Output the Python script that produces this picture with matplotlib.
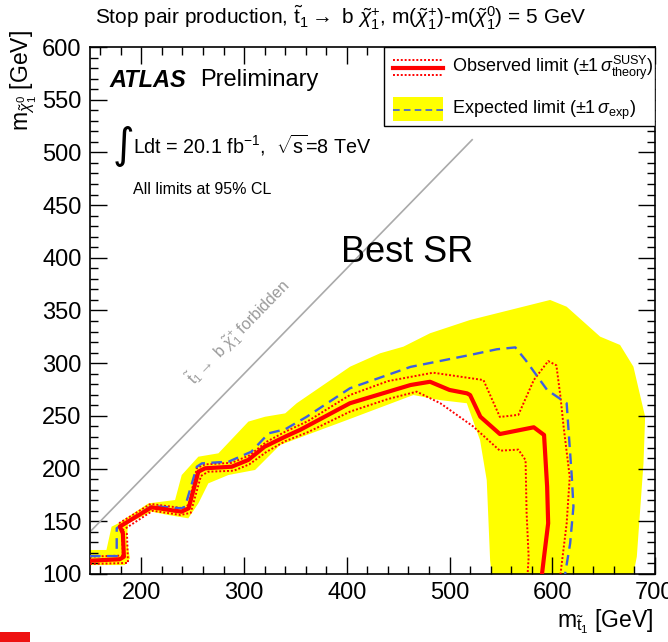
import matplotlib
matplotlib.use('Agg')
import matplotlib.pyplot as plt
from matplotlib.patches import Rectangle
from matplotlib.lines import Line2D
from matplotlib.ticker import MultipleLocator

plt.rcParams['font.family'] = ['Liberation Sans', 'DejaVu Sans']
plt.rcParams['mathtext.fontset'] = 'custom'
plt.rcParams['mathtext.rm'] = 'Liberation Sans'
plt.rcParams['mathtext.it'] = 'Liberation Sans:italic'
plt.rcParams['mathtext.bf'] = 'Liberation Sans:bold'
plt.rcParams['mathtext.sf'] = 'Liberation Sans'

# ---------------- data (GeV) ----------------
obs_x = [150, 179, 183, 182, 179, 210, 239, 246, 255.5, 262, 288, 304, 320, 340, 355, 403,
         462, 481, 500, 517, 520, 530, 549, 582, 592, 595, 596, 592, 590]
obs_y = [112.6, 114, 116.4, 138.6, 145, 163.3, 159.1, 162.3, 197.1, 200.3, 201.8, 208.2, 220.8, 230.3, 237, 262,
         279.3, 282.4, 274.6, 271.4, 269.8, 249.2, 232.8, 239.2, 231.9, 182.8, 148.1, 116.4, 100]

obs_up_x = [150, 182, 181, 178, 209, 240, 246, 254, 262, 288, 305, 322, 340, 362, 403, 440, 484,
            533, 549, 567, 582, 596, 604, 608, 611, 617, 614, 608]
obs_up_y = [116.5, 117.5, 142, 148, 166.5, 162.5, 165.5, 200.5, 204, 205.5, 212.5, 225.5, 235, 245, 269.8, 283, 291,
            284, 249, 251, 284, 302, 298, 268, 240, 192, 148, 100]

obs_dn_x = [150, 187, 186, 181, 211, 238, 248, 258, 265, 290, 305, 322, 340, 362, 403, 440, 468,
            491, 523, 549, 567, 574, 575, 577, 576]
obs_dn_y = [109.5, 110.5, 138, 141, 160, 156, 158, 193, 197, 198, 204, 216, 226, 234.5, 254, 266, 273,
            262, 240, 217, 218, 208, 158, 116, 100]

exp_x = [150, 176, 176, 210, 239, 242.5, 254, 259, 285, 307, 324, 340, 361, 403, 462, 520,
         546, 564, 574, 595, 614, 619, 620.6, 617.4, 612.5]
exp_y = [117, 117, 143.4, 164.5, 162.3, 163.9, 201.8, 205, 206.6, 216, 233.5, 237.3, 249.2, 276.2, 296.5, 307.8,
         313.2, 315, 303, 274.6, 262, 192.3, 163.9, 129.1, 100]

band_outer_x = [150, 166, 171, 177.6, 206.8, 232.8, 239.3, 255.5, 275, 304.2, 320.4, 340, 351.2, 403.2,
                432.4, 455.1, 481, 520, 597.9, 614, 646.6, 666, 679, 690.4, 688.8, 682.3, 679]
band_outer_y = [122.8, 122.8, 144.9, 148.1, 167, 170.2, 193.9, 211.3, 214.5, 244.6, 249.2, 252.4, 262, 296.7,
                309.4, 315.7, 328.4, 341, 360, 353.6, 325.2, 317.3, 296.7, 249.2, 205, 116.4, 100]
band_inner_x = [541, 539.5, 536.2, 529.7, 516.8, 490.8, 464.8, 400, 335, 310.7, 284.7, 265.2, 255.5,
                245.7, 226.2, 210, 187.3, 185.6, 189, 184, 164.6, 150]
band_inner_y = [100, 113, 189, 227, 262, 265, 269.8, 246, 222.4, 198.7, 193.9, 186, 167,
                152.8, 156, 159.1, 148.1, 132.3, 114.9, 108.5, 108.5, 108.5]

diag_x = [150, 522]
diag_y = [140, 512]

x_ticks = [200, 300, 400, 500, 600, 700]
y_ticks = [100, 150, 200, 250, 300, 350, 400, 450, 500, 550, 600]

# ---------------- figure ----------------
W, H = 668, 642
fig = plt.figure(figsize=(W / 100, H / 100), dpi=100)
ax = fig.add_axes([90 / W, 68 / H, 565 / W, 527 / H])
ax.set_xlim(150, 700)
ax.set_ylim(100, 600)

YELLOW = '#ffff00'
RED = '#ff0000'
BLUE = '#3d5fe0'

ax.fill(band_outer_x + band_inner_x, band_outer_y + band_inner_y, color=YELLOW, lw=0, zorder=1)
ax.plot(diag_x, diag_y, color='#aaaaaa', lw=1.2, zorder=2)
ax.plot(obs_up_x, obs_up_y, color=RED, lw=1.4, ls=(0, (1, 1)), zorder=3)
ax.plot(obs_dn_x, obs_dn_y, color=RED, lw=1.4, ls=(0, (1, 1)), zorder=3)
ax.plot(exp_x, exp_y, color=BLUE, lw=1.7, ls=(0, (4.5, 2.7)), zorder=4)
ax.plot(obs_x, obs_y, color=RED, lw=3.0, zorder=5, solid_joinstyle='round')

# axes styling (ROOT-like)
ax.set_xticks(x_ticks)
ax.set_yticks(y_ticks)
ax.xaxis.set_minor_locator(MultipleLocator(20))
ax.yaxis.set_minor_locator(MultipleLocator(10))
ax.tick_params(which='major', direction='in', length=12, width=1.0, top=True, right=True,
               labelsize=17, pad=6)
ax.tick_params(which='minor', direction='in', length=6, width=1.0, top=True, right=True)
for s in ax.spines.values():
    s.set_linewidth(1.2)

# title
fig.text(341 / W, 1 - 18 / H,
         r'Stop pair production, $\tilde{\mathrm{t}}_{1}\rightarrow$ b $\tilde{\chi}^{+}_{1}$, '
         r'm($\tilde{\chi}^{+}_{1}$)-m($\tilde{\chi}^{0}_{1}$) = 5 GeV',
         ha='center', va='center', fontsize=15)

# axis labels
fig.text(24 / W, 1 - 30 / H, r'm$_{\tilde{\chi}^{0}_{1}}$ [GeV]', rotation=90,
         ha='center', va='top', fontsize=16.5)
fig.text(653 / W, 1 - 622 / H, r'm$_{\tilde{\mathrm{t}}_{1}}$ [GeV]', ha='right', va='center',
         fontsize=16.5)

# annotations
ax.text(0.035, 0.937, 'ATLAS', transform=ax.transAxes, fontsize=17, fontweight='bold',
        fontstyle='italic', va='center', ha='left')
ax.text(0.195, 0.937, 'Preliminary', transform=ax.transAxes, fontsize=17, va='center', ha='left')
ax.text(0.040, 0.812, '\u222b', transform=ax.transAxes, fontsize=30, va='center', ha='left',
        family='DejaVu Sans')
ax.text(0.076, 0.814, r'Ldt = 20.1 fb$^{-1}$,  $\sqrt{\mathrm{s}}$=8 TeV', transform=ax.transAxes,
        fontsize=14.2, va='center', ha='left')
ax.text(0.076, 0.729, 'All limits at 95% CL', transform=ax.transAxes, fontsize=11.5, va='center',
        ha='left')
ax.text(0.561, 0.611, 'Best SR', transform=ax.transAxes, fontsize=26, va='center', ha='center')

ax.text(295, 329.6, r'$\tilde{\mathrm{t}}_{1}\rightarrow$ b $\tilde{\chi}^{+}_{1}$ forbidden',
        rotation=45.7, rotation_mode='anchor', ha='center', va='center', fontsize=11.5,
        color='#999999')

# legend (drawn manually in axes coordinates)
t = ax.transAxes
ax.add_patch(Rectangle((0.520, 0.850), 0.480, 0.150, transform=t, facecolor='white',
                       edgecolor='black', lw=1.0, zorder=10))
ax.add_line(Line2D([0.536, 0.625], [0.975, 0.975], transform=t, color=RED, lw=1.4,
                   ls=(0, (1, 1)), zorder=11))
ax.add_line(Line2D([0.536, 0.625], [0.947, 0.947], transform=t, color=RED, lw=1.4,
                   ls=(0, (1, 1)), zorder=11))
ax.add_line(Line2D([0.536, 0.625], [0.961, 0.961], transform=t, color=RED, lw=3.0, zorder=11))
ax.add_patch(Rectangle((0.536, 0.860), 0.089, 0.045, transform=t, facecolor=YELLOW, lw=0,
                       zorder=11))
ax.add_line(Line2D([0.536, 0.625], [0.880, 0.880], transform=t, color=BLUE, lw=1.2,
                   ls=(0, (4, 2.5)), zorder=12))
ax.text(0.641, 0.961, r'Observed limit ($\pm$1$\,\sigma^{\mathrm{SUSY}}_{\mathrm{theory}}$)',
        transform=t, fontsize=13, va='center', ha='left', zorder=12)
ax.text(0.641, 0.879, r'Expected limit ($\pm$1$\,\sigma_{\mathrm{exp}}$)',
        transform=t, fontsize=13, va='center', ha='left', zorder=12)

# small red mark at bottom-left of the slide
fig.patches.append(Rectangle((0, 0), 30 / W, 10 / H, transform=fig.transFigure,
                             facecolor='#ee1111', edgecolor='none'))

fig.savefig('out.png', dpi=100)
